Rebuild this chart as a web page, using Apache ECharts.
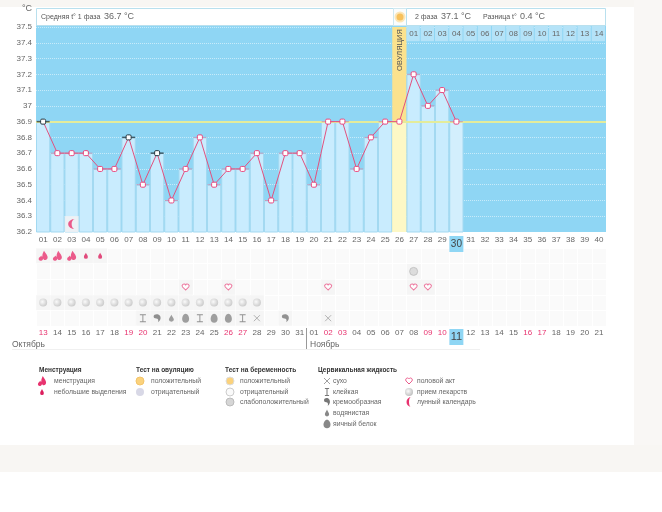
<!DOCTYPE html>
<html>
<head>
<meta charset="utf-8">
<script src="https://cdn.jsdelivr.net/npm/echarts@6/dist/echarts.min.js"></script>
<style>
  html, body { margin: 0; padding: 0; background: #fff; }
  #chart { width: 662px; height: 512px; }
</style>
</head>
<body>
<div id="chart"></div>
<script>
const cycleDays = ['01','02','03','04','05','06','07','08','09','10','11','12','13','14','15','16','17','18','19','20',
  '21','22','23','24','25','26','27','28','29','30','31','32','33','34','35','36','37','38','39','40'];
const calendarDates = ['13','14','15','16','17','18','19','20','21','22','23','24','25','26','27','28','29','30','31',
  '01','02','03','04','05','06','07','08','09','10','11','12','13','14','15','16','17','18','19','20','21'];
const weekendIndexes = [0, 6, 7, 13, 14, 20, 21, 27, 28, 34, 35];
const temperatures = [36.9, 36.7, 36.7, 36.7, 36.6, 36.6, 36.8, 36.5, 36.7, 36.4, 36.6, 36.8, 36.5, 36.6, 36.6,
  36.7, 36.4, 36.7, 36.7, 36.5, 36.9, 36.9, 36.6, 36.8, 36.9, 36.9, 37.2, 37.0, 37.1, 36.9];
const phase2Labels = ['01','02','03','04','05','06','07','08','09','10','11','12','13','14'];
const coverline = 36.9;
const ovulationDay = '26';
const todayDay = '30';
const capDays = ['01', '07', '09'];
const moonChartDays = ['03'];

const rows = ['menstruation', 'test', 'sex', 'pill', 'mucus'];
const heavyDays = ['01','02','03'];
const lightDays = ['04','05'];
const pregnancyWeakDays = ['27'];
const sexDays = ['11','14','21','27','28'];
const pillDays = ['01','02','03','04','05','06','07','08','09','10','11','12','13','14','15','16'];
const stickyDays = ['08','12','15'];
const creamyDays = ['09','18'];
const wateryDays = ['10'];
const eggWhiteDays = ['11','13','14'];
const dryDays = ['16','21'];

const P = {
  flame: 'M6 0C7 2 9 4 10 7C11 10 9 12 7 12C6 12 5 11 5 10C5 12 3 13 2 13C0 13 -1 11 0 9C1 8 2 7 3 6C3 8 4 8 4 7C4 4 5 2 6 0Z',
  drop: 'M5 0C6 3 9 6 9 9A4 4 0 0 1 1 9C1 6 4 3 5 0Z',
  heart: 'M5 9L1 5C-1 2 3 -1 5 2C7 -1 11 2 9 5Z',
  cross: 'M0 0L10 10M10 0L0 10',
  sticky: 'M2 0H8M5 0V10M2 10H8',
  creamy: 'M1 3C1 0 6 -1 8 2C10 5 9 9 6 11C7 8 6 6 4 6C2 6 1 5 1 3Z',
  egg: 'M5 0C8 0 10 4 10 7C10 10 8 12 5 12C2 12 0 10 0 7C0 4 2 0 5 0Z',
  moon: 'M7 0A6 6 0 1 0 7 12A3 6 0 0 1 7 0Z',
  ball: 'M5 0A5 5 0 1 1 5 10A5 5 0 1 1 5 0Z'
};

const PINK = '#e8336f';
const FONT = '"Liberation Sans", sans-serif';
const pillFill = { type: 'radial', x: 0.4, y: 0.4, r: 0.65, colorStops: [{ offset: 0, color: '#fbfbfb' }, { offset: 1, color: '#bdbdbd' }] };

const styles = {
  heavy: { path: P.flame, size: [9, 10], item: { color: PINK } },
  light: { path: P.drop, size: [4, 6], item: { color: '#dc1f5e' } },
  sex: { path: P.heart, size: [7, 6], item: { color: '#fff', borderColor: '#ea5a8a', borderWidth: 1 } },
  pill: { path: P.ball, size: [8, 8], item: { color: pillFill } },
  weak: { path: P.ball, size: [8, 8], item: { color: '#d6d6d6', borderColor: '#bbb', borderWidth: 1 } },
  dry: { path: P.cross, size: [6, 6], item: { color: 'transparent', borderColor: '#a0a0a0', borderWidth: 1 } },
  sticky: { path: P.sticky, size: [6, 7], item: { color: 'transparent', borderColor: '#777', borderWidth: 1 } },
  creamy: { path: P.creamy, size: [7, 8], item: { color: '#777' } },
  watery: { path: P.drop, size: [5, 7], item: { color: '#888' } },
  egg: { path: P.egg, size: [7, 9], item: { color: '#888' } },
  moon: { path: P.moon, size: [7, 10], item: { color: PINK } },
  ovuPos: { path: P.ball, size: [8, 8], item: { color: '#fbd27c', borderColor: '#f3c46a', borderWidth: 1 } },
  ovuNeg: { path: P.ball, size: [8, 8], item: { color: '#d8d8e6' } },
  pregPos: { path: P.ball, size: [8, 8], item: { color: '#fbd27c', borderColor: '#ddd', borderWidth: 1 } },
  pregNeg: { path: P.ball, size: [8, 8], item: { color: '#fafafa', borderColor: '#ccc', borderWidth: 1 } }
};

function iconSeries(days, row, style) {
  return {
    type: 'scatter', xAxisIndex: 2, yAxisIndex: 1, z: 4, silent: true,
    symbol: 'path://' + style.path, symbolSize: style.size, itemStyle: style.item,
    data: days.map(d => [d, row])
  };
}

const usedCells = [];
[[heavyDays, 'menstruation'], [lightDays, 'menstruation'], [pregnancyWeakDays, 'test'], [sexDays, 'sex'], [pillDays, 'pill'],
  [stickyDays, 'mucus'], [creamyDays, 'mucus'], [wateryDays, 'mucus'], [eggWhiteDays, 'mucus'], [dryDays, 'mucus']]
  .forEach(([days, row]) => days.forEach(d => usedCells.push([d, row])));

// legend block
const legendHeads = [['Менструация', 39], ['Тест на овуляцию', 136], ['Тест на беременность', 225], ['Цервикальная жидкость', 318]];
const legendCols = [
  { iconX: 42, textX: 54, items: [['менструация', 'heavy'], ['небольшие выделения', 'light']] },
  { iconX: 140, textX: 151, items: [['положительный', 'ovuPos'], ['отрицательный', 'ovuNeg']] },
  { iconX: 230, textX: 240, items: [['положительный', 'pregPos'], ['отрицательный', 'pregNeg'], ['слабоположительный', 'weak']] },
  { iconX: 327, textX: 333, items: [['сухо', 'dry'], ['клейкая', 'sticky'], ['кремообразная', 'creamy'], ['водянистая', 'watery'], ['яичный белок', 'egg']] },
  { iconX: 409, textX: 417, items: [['половой акт', 'sex'], ['прием лекарств', 'pill'], ['лунный календарь', 'moon']] }
];
const legendRowY = [381, 392, 402, 413, 424];
const legendIcons = [];
legendCols.forEach(col => col.items.forEach(([text, key], i) => legendIcons.push({ x: col.iconX, y: legendRowY[i], key })));

const series = [
  // ovulation column behind the temperature bars
  {
    type: 'bar', barWidth: '100%', barGap: '-100%', z: 2, silent: true,
    itemStyle: { color: '#fbe28e' },
    data: cycleDays.map(d => d === ovulationDay ? 37.5 : null)
  },
  {
    type: 'bar', barWidth: '100%', barGap: '-100%', z: 2, silent: true,
    data: temperatures.map((t, i) => ({
      value: t,
      itemStyle: cycleDays[i] === ovulationDay
        ? { color: '#fdf8c6', borderWidth: 0 }
        : { color: cycleDays[i] === todayDay ? '#d3effd' : '#c9ecfe', borderColor: '#a3d9f1', borderWidth: 1 }
    }))
  },
  // header cells of the second phase
  {
    type: 'custom', z: 3, silent: true, clip: false,
    data: phase2Labels.map((l, i) => [cycleDays[26 + i], 37.41]),
    encode: { x: 0, y: 1 },
    renderItem(params, api) {
      const top = api.coord([api.value(0), 37.5]);
      const bottom = api.coord([api.value(0), api.value(1)]);
      const w = api.size([1, 0])[0];
      return {
        type: 'rect',
        shape: { x: top[0] - w / 2, y: top[1] - 2, width: w - 1, height: bottom[1] - top[1] + 2 },
        style: { fill: '#b5e3f8' }
      };
    }
  },
  // caps over each bar, black on the marked days
  {
    type: 'scatter', z: 4, silent: true, symbol: 'rect', symbolSize: [13, 1],
    itemStyle: { color: '#c58db0' },
    data: temperatures.map((t, i) => [cycleDays[i], t]).filter(p => !capDays.includes(p[0]) && p[0] !== ovulationDay)
  },
  {
    type: 'scatter', z: 4, silent: true, symbol: 'rect', symbolSize: [13, 1.5],
    itemStyle: { color: '#263a44' },
    data: capDays.map(d => [d, temperatures[cycleDays.indexOf(d)]])
  },
  {
    type: 'line', z: 5, silent: true, symbol: 'roundRect', symbolSize: 5, showSymbol: true,
    lineStyle: { color: '#e2517f', width: 1 },
    itemStyle: { color: '#fff', borderColor: '#e8487f', borderWidth: 1 },
    data: temperatures.map((t, i) => capDays.includes(cycleDays[i])
      ? { value: t, itemStyle: { color: '#fff', borderColor: '#263a44', borderWidth: 1 } }
      : t),
    markLine: {
      silent: true, symbol: 'none', animation: false, z: 3,
      lineStyle: { color: '#e4ec9a', width: 2, type: 'solid' },
      label: { show: false },
      data: [{ yAxis: coverline }]
    }
  },
  // moon calendar mark inside the plot
  {
    type: 'scatter', z: 4, silent: true, symbol: 'rect', symbolSize: [14, 16],
    itemStyle: { color: '#f6f2f2' },
    data: moonChartDays.map(d => [d, 36.25])
  },
  {
    type: 'scatter', z: 5, silent: true, symbol: 'path://' + styles.moon.path, symbolSize: styles.moon.size,
    itemStyle: styles.moon.item,
    data: moonChartDays.map(d => [d, 36.25])
  },
  // shaded cells under the icons
  {
    type: 'scatter', xAxisIndex: 2, yAxisIndex: 1, z: 3, silent: true,
    symbol: 'rect', symbolSize: [14, 15], itemStyle: { color: '#f4f4f4' },
    data: usedCells
  },
  iconSeries(heavyDays, 'menstruation', styles.heavy),
  iconSeries(lightDays, 'menstruation', styles.light),
  iconSeries(pregnancyWeakDays, 'test', styles.weak),
  iconSeries(sexDays, 'sex', styles.sex),
  iconSeries(pillDays, 'pill', styles.pill),
  iconSeries(stickyDays, 'mucus', styles.sticky),
  iconSeries(creamyDays, 'mucus', styles.creamy),
  iconSeries(wateryDays, 'mucus', styles.watery),
  iconSeries(eggWhiteDays, 'mucus', styles.egg),
  iconSeries(dryDays, 'mucus', styles.dry),
  // legend swatches, laid out on the page rather than on an axis
  {
    type: 'custom', coordinateSystem: 'none', z: 6, silent: true,
    data: legendIcons.map((d, i) => [i]),
    renderItem(params) {
      const d = legendIcons[params.dataIndex];
      const st = styles[d.key];
      const [w, h] = st.size;
      return {
        type: 'path',
        shape: { pathData: st.path, layout: 'center', x: d.x - w / 2, y: d.y - h / 2, width: w, height: h },
        style: { fill: st.item.color, stroke: st.item.borderColor || null, lineWidth: st.item.borderWidth || 0 }
      };
    }
  }
];

function label(x, y, text, size, color, extra) {
  return {
    type: 'text', x, y, z: 20, silent: true,
    style: Object.assign({ text, fill: color || '#555', font: `${size}px ${FONT}`, verticalAlign: 'middle' }, extra || {})
  };
}
function box(x, y, width, height, fill, stroke, z) {
  return {
    type: 'rect', z: z === undefined ? 10 : z, silent: true,
    shape: { x, y, width, height },
    style: { fill, stroke: stroke || null, lineWidth: stroke ? 1 : 0 }
  };
}

const graphics = [
  // page surroundings
  box(0, 0, 662, 7, '#f8f6f3', null, -10),
  box(634, 0, 28, 472, '#f9f7f5', null, -10),
  box(0, 445, 662, 27, '#f8f6f3', null, -10),
  // strip over the plot, two pixels above the axis top
  box(36, 25, 570, 2, '#8fd6f4', null, 1),
  // header boxes
  box(36.5, 8.5, 357, 17, '#fff', '#b9e0ee'),
  box(393.5, 8.5, 13, 17, '#fbfdfd', '#cfe8f0'),
  box(406.5, 8.5, 199, 17, '#fff', '#b9e0ee'),
  { type: 'circle', z: 11, silent: true, shape: { cx: 400, cy: 17, r: 3.5 }, style: { fill: '#f7c15c' } },
  { type: 'circle', z: 10, silent: true, shape: { cx: 400, cy: 17, r: 5.5 }, style: { fill: '#fbe6b8' } },
  label(41, 17, 'Средняя t° 1 фаза', 7, '#555'),
  label(104, 17, '36.7 °C', 9, '#666'),
  label(415, 17, '2 фаза', 7, '#555'),
  label(441, 17, '37.1 °C', 9, '#666'),
  label(483, 17, 'Разница t°', 7, '#555'),
  label(520, 17, '0.4 °C', 9, '#666'),
  label(22, 9, '°C', 9, '#666'),
  // ovulation caption
  {
    type: 'text', z: 20, silent: true, x: 399.5, y: 50, rotation: Math.PI / 2,
    style: { text: 'ОВУЛЯЦИЯ', fill: '#555', font: `7.5px ${FONT}`, align: 'center', verticalAlign: 'middle' }
  },
  // months
  label(12, 345, 'Октябрь', 8.5, '#666'),
  label(310, 345, 'Ноябрь', 8.5, '#666'),
  box(12, 349, 468, 0.6, '#e2e2e2'),
  box(306, 328, 1, 21, '#999')
];

legendHeads.forEach(([text, x]) => graphics.push(label(x, 370.5, text, 6.5, '#333', { font: `bold 6.5px ${FONT}` })));
legendCols.forEach(col => {
  col.items.forEach(([text], i) => graphics.push(label(col.textX, legendRowY[i], text, 6.8, '#666')));
});

const chart = echarts.init(document.getElementById('chart'), null, { renderer: 'canvas' });
chart.setOption({
  animation: false,
  tooltip: { show: false },
  textStyle: { fontFamily: FONT },
  grid: [
    { left: 36, top: 27, width: 570, height: 205, show: true, backgroundColor: '#8fd6f4', borderWidth: 0 },
    { left: 36, top: 248, width: 570, height: 78, show: true, backgroundColor: '#fafafa', borderWidth: 0 }
  ],
  xAxis: [
    {
      type: 'category', gridIndex: 0, data: cycleDays.map(d => d === todayDay
        ? { value: d, textStyle: { backgroundColor: '#8fd6f4', width: 14, height: 16, lineHeight: 16, align: 'center', color: '#444', fontSize: 10 } }
        : d),
      axisLine: { show: false }, axisTick: { show: false },
      axisLabel: { interval: 0, color: '#666', fontSize: 8, margin: 4 }
    },
    {
      type: 'category', gridIndex: 0, position: 'top', z: 6,
      data: cycleDays.map((d, i) => i >= 26 ? phase2Labels[i - 26] : { value: 'x' + i, textStyle: { color: 'transparent' } }),
      axisLine: { show: false, onZero: false }, axisTick: { show: false },
      axisLabel: { interval: 0, inside: true, color: '#666', fontSize: 8, margin: 3 }
    },
    {
      type: 'category', gridIndex: 1, data: cycleDays,
      axisLine: { show: false }, axisTick: { show: false },
      axisLabel: { show: false },
      splitLine: { show: true, interval: 0, lineStyle: { color: '#fff', width: 1 } }
    },
    {
      type: 'category', gridIndex: 1, position: 'bottom', z: 6,
      data: calendarDates.map((d, i) => ({
        value: d + '_' + i,
        textStyle: i === 29
          ? { backgroundColor: '#8fd6f4', width: 14, height: 16, lineHeight: 16, align: 'center', color: '#444', fontSize: 11 }
          : { color: weekendIndexes.includes(i) ? PINK : '#666', fontSize: 8 }
      })),
      axisLine: { show: false, onZero: false }, axisTick: { show: false },
      axisLabel: { interval: 0, margin: 3, formatter: v => v.split('_')[0] }
    }
  ],
  yAxis: [
    {
      type: 'value', gridIndex: 0, min: 36.2, max: 37.5, interval: 0.1,
      axisLine: { show: false }, axisTick: { show: false },
      axisLabel: { color: '#666', fontSize: 8, margin: 4, formatter: v => String(parseFloat(v.toFixed(1))) },
      splitLine: { show: true, lineStyle: { color: 'rgba(255,255,255,0.5)', type: 'dotted', width: 1 } }
    },
    {
      type: 'category', gridIndex: 1, data: rows, inverse: true,
      axisLine: { show: false }, axisTick: { show: false }, axisLabel: { show: false },
      splitLine: { show: true, interval: 0, lineStyle: { color: '#fff', width: 1 } }
    }
  ],
  series,
  graphic: { elements: graphics }
});
</script>
</body>
</html>
